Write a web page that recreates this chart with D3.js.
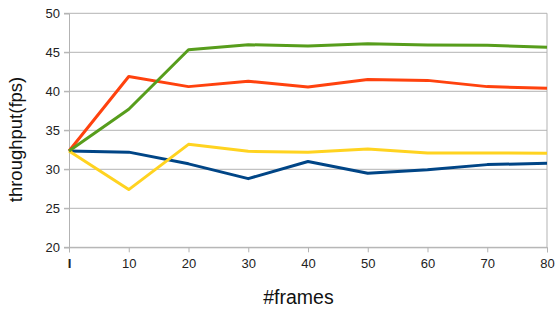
<!DOCTYPE html>
<html>
<head>
<meta charset="utf-8">
<script src="https://cdn.jsdelivr.net/npm/d3@7"></script>
<style>
  body { margin: 0; background: #fff; }
  text { font-family: "Liberation Sans", Arial, sans-serif; }
</style>
</head>
<body>
<div class="content"></div>
<script>
// chart data
const frames = ['I', '10', '20', '30', '40', '50', '60', '70', '80'];
const blue   = [32.35, 32.2, 30.7, 28.8, 31.0, 29.5, 29.95, 30.6, 30.77];
const orange = [32.35, 41.9, 40.6, 41.3, 40.55, 41.5, 41.4, 40.6, 40.4];
const yellow = [32.35, 27.4, 33.2, 32.3, 32.2, 32.6, 32.1, 32.1, 32.05];
const green  = [32.35, 37.7, 45.33, 45.97, 45.8, 46.1, 45.94, 45.9, 45.64];
const yTicks = [20, 25, 30, 35, 40, 45, 50];

function main() {
  const svgW = 555, svgH = 310;
  const svg = d3.select('.content').append('svg')
                .attr('width', svgW)
                .attr('height', svgH);

  const left = 69, right = 547, top = 13.3, bottom = 247.3;

  const x = d3.scalePoint().domain(frames).range([left, right]).padding(0);
  const y = d3.scaleLinear().domain([20, 50]).range([bottom, top]);

  // horizontal grid
  svg.append('g')
     .selectAll('line')
     .data(yTicks)
     .join('line')
     .attr('x1', left - 5).attr('x2', right)
     .attr('y1', d => y(d)).attr('y2', d => y(d))
     .attr('stroke', '#b3b3b3').attr('stroke-width', 1);

  // right border
  svg.append('line')
     .attr('x1', right).attr('x2', right)
     .attr('y1', top).attr('y2', bottom)
     .attr('stroke', '#b3b3b3');

  // y axis
  const yAxis = svg.append('g')
     .attr('transform', 'translate(' + left + ',0)')
     .call(d3.axisLeft(y).tickValues(yTicks).tickSize(5).tickPadding(4));
  yAxis.select('.domain').attr('stroke', '#b3b3b3');
  yAxis.selectAll('line').attr('stroke', '#b3b3b3');
  yAxis.selectAll('text').attr('font-size', 13).attr('fill', '#222')
       .style('font-family', '"Liberation Sans", Arial, sans-serif');

  // x axis
  const xAxis = svg.append('g')
     .attr('transform', 'translate(0,' + bottom + ')')
     .call(d3.axisBottom(x).tickSize(5).tickPadding(6));
  xAxis.select('.domain').attr('stroke', '#b3b3b3');
  xAxis.selectAll('line').attr('stroke', '#b3b3b3');
  xAxis.selectAll('text').attr('font-size', 13).attr('fill', '#222')
       .style('font-family', '"Liberation Sans", Arial, sans-serif')
       .attr('font-weight', d => d === 'I' ? 'bold' : null);

  // lines
  const line = d3.line()
     .x((d, i) => x(frames[i]))
     .y(d => y(d));

  const series = [
    { values: blue,   color: '#004586' },
    { values: yellow, color: '#ffd320' },
    { values: orange, color: '#ff420e' },
    { values: green,  color: '#579d1c' }
  ];
  svg.selectAll('path.series')
     .data(series)
     .join('path')
     .attr('class', 'series')
     .attr('d', d => line(d.values))
     .attr('fill', 'none')
     .attr('stroke', d => d.color)
     .attr('stroke-width', 3)
     .attr('stroke-linejoin', 'round');

  // axis titles
  svg.append('text')
     .attr('transform', 'translate(22,139.5) rotate(-90)')
     .attr('text-anchor', 'middle')
     .attr('font-size', 18.5)
     .attr('fill', '#111')
     .text('throughput(fps)');
  svg.append('text')
     .attr('x', 298.5)
     .attr('y', 304)
     .attr('text-anchor', 'middle')
     .attr('font-size', 19.5)
     .attr('fill', '#111')
     .text('#frames');
}
main();
</script>
</body>
</html>
